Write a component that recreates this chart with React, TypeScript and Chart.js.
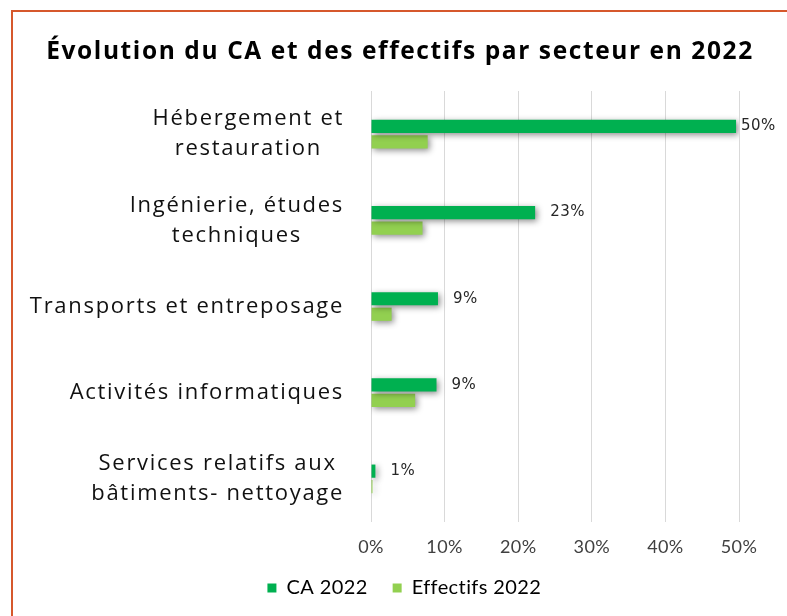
import React, { useEffect, useRef } from "react";
import { Chart, registerables } from "chart.js";

Chart.register(...registerables);

const titleText = "Évolution du CA et des effectifs par secteur en 2022";
const categories: (string | string[])[] = [
  ["Hébergement et", "restauration"],
  ["Ingénierie, études", "techniques"],
  "Transports et entreposage",
  "Activités informatiques",
  ["Services relatifs aux", "bâtiments- nettoyage"],
];
const caValues = [49.6, 22.3, 9.1, 8.9, 0.6];
const effectifsValues = [7.7, 7.0, 2.8, 6.0, 0.2];
const caLabels = ["50%", "23%", "9%", "9%", "1%"];
const seriesNames = ["CA 2022", "Effectifs 2022"];
const xMin = 0;
const xMax = 50;
const xStep = 10;

const CA_COLOR = "#00B050";
const EFF_COLOR = "#92D050";
const BORDER_COLOR = "#D6582C";

const framePlugin = {
  id: "frame",
  beforeDraw(chart: any) {
    const { ctx, width, height } = chart;
    ctx.save();
    ctx.fillStyle = "#ffffff";
    ctx.fillRect(0, 0, width, height);
    ctx.strokeStyle = BORDER_COLOR;
    ctx.lineWidth = 2;
    ctx.beginPath();
    ctx.moveTo(12, height);
    ctx.lineTo(12, 11);
    ctx.lineTo(width, 11);
    ctx.stroke();
    // title (drawn here so it can use letter spacing)
    ctx.font = 'bold 24.5px "Open Sans"';
    (ctx as any).letterSpacing = "1.6px";
    ctx.fillStyle = "#000000";
    ctx.textAlign = "center";
    ctx.textBaseline = "alphabetic";
    const cx = (chart.legend.left + chart.legend.right) / 2;
    ctx.fillText(titleText, cx, 58.5);
    ctx.restore();
    // slight tracking for the library-drawn texts (also avoids ligatures)
    (ctx as any).letterSpacing = "0.4px";
  },
  afterDraw(chart: any) {
    (chart.ctx as any).letterSpacing = "0px";
  },
};

// let the x tick labels draw below the (shortened) x-axis box
const axisPlugin = {
  id: "axisExtend",
  afterLayout(chart: any) {
    const x = chart.scales.x;
    x.bottom = x.bottom + 20;
  },
};

const shadowPlugin = {
  id: "barShadow",
  beforeDatasetsDraw(chart: any) {
    const ctx = chart.ctx;
    ctx.save();
    ctx.shadowColor = "rgba(0,0,0,0.45)";
    ctx.shadowBlur = 6;
    ctx.shadowOffsetX = 2;
    ctx.shadowOffsetY = 2;
  },
  afterDatasetsDraw(chart: any) {
    chart.ctx.restore();
  },
};

const labelsPlugin = {
  id: "customLabels",
  afterDraw(chart: any) {
    const { ctx, chartArea } = chart;
    const yScale = chart.scales.y;
    ctx.save();
    // category labels: block right aligned, lines centered
    ctx.font = '22px "Open Sans"';
    (ctx as any).letterSpacing = "1.7px";
    ctx.fillStyle = "#111111";
    ctx.textAlign = "center";
    ctx.textBaseline = "middle";
    const lh = 30;
    categories.forEach((c, i) => {
      const lines = Array.isArray(c) ? c : [c];
      const y = yScale.getPixelForValue(i);
      const maxW = Math.max(...lines.map((l) => ctx.measureText(l).width));
      const cx = chartArea.left - 27 - maxW / 2;
      lines.forEach((l, j) => {
        ctx.fillText(l, cx, y + (j - (lines.length - 1) / 2) * lh);
      });
    });
    // data labels for CA
    (ctx as any).letterSpacing = "0.5px";
    ctx.font = '15px "DejaVu Sans"';
    ctx.fillStyle = "#262626";
    ctx.textAlign = "left";
    const meta = chart.getDatasetMeta(0);
    meta.data.forEach((bar: any, i: number) => {
      const x = Math.min(bar.x + 15, chartArea.right + 2);
      ctx.fillText(caLabels[i], x, bar.y);
    });
    ctx.restore();
  },
};

export default function App() {
  const ref = useRef<HTMLCanvasElement>(null);
  useEffect(() => {
    document.body.style.margin = "0";
    if (!ref.current) return;
    const chart = new Chart(ref.current, {
      type: "bar",
      data: {
        labels: categories as any,
        datasets: [
          {
            label: seriesNames[0],
            data: caValues,
            backgroundColor: CA_COLOR,
            categoryPercentage: 0.36,
            barPercentage: 0.85,
          },
          {
            label: seriesNames[1],
            data: effectifsValues,
            backgroundColor: EFF_COLOR,
            categoryPercentage: 0.36,
            barPercentage: 0.85,
          },
        ],
      },
      options: {
        indexAxis: "y",
        animation: false,
        responsive: true,
        maintainAspectRatio: false,
        layout: { padding: { left: 61, right: 48, top: 91, bottom: 8 } },
        scales: {
          x: {
            min: xMin,
            max: xMax,
            ticks: {
              stepSize: xStep,
              padding: 14,
              color: "#404040",
              font: { family: "Lato", size: 18 },
              callback: (v: any) => `${v}%`,
            },
            grid: { color: "#D9D9D9", drawTicks: false },
            border: { display: false },
            afterFit: (s: any) => {
              s.height = 31;
            },
          },
          y: {
            ticks: { display: false },
            grid: { display: false },
            border: { display: false },
            afterFit: (s: any) => {
              s.width = 310;
            },
          },
        },
        plugins: {
          title: { display: false },
          legend: {
            position: "bottom",
            labels: {
              boxWidth: 9,
              boxHeight: 9,
              padding: 25,
              color: "#000000",
              font: { family: "Lato", size: 20 },
            },
          },
          tooltip: { enabled: false },
        },
      },
      plugins: [framePlugin, axisPlugin, shadowPlugin, labelsPlugin],
    });
    return () => chart.destroy();
  }, []);
  return (
    <div style={{ width: 787, height: 616, position: "relative" }}>
      <canvas ref={ref} />
    </div>
  );
}
